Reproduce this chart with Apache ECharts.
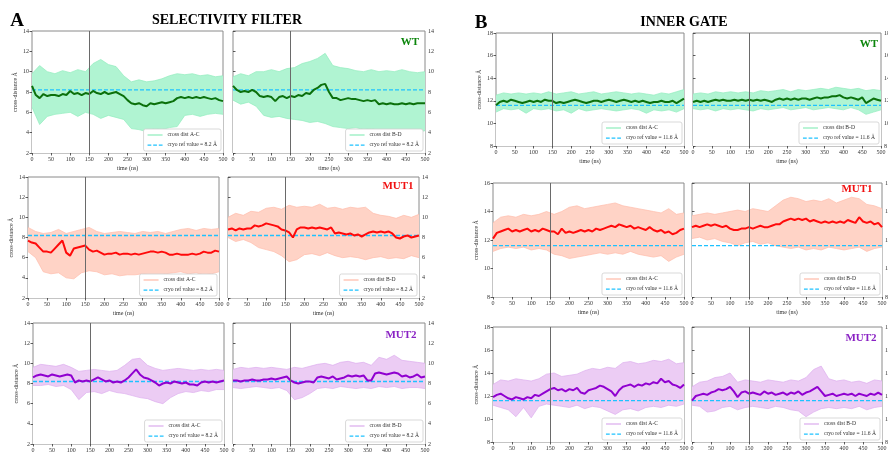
<!DOCTYPE html>
<html>
<head>
<meta charset="utf-8">
<script src="https://cdn.jsdelivr.net/npm/echarts@6/dist/echarts.min.js"></script>
<style>
  html, body { margin: 0; padding: 0; background: #fff; }
  #chart { width: 888px; height: 454px; }
</style>
</head>
<body>
<div id="chart"></div>
<script>
// time points (ns)
const tMean = [0,10,20,30,40,50,60,70,80,90,100,110,120,130,140,150,160,170,180,190,200,210,220,230,240,250,260,270,280,290,300,310,320,330,340,350,360,370,380,390,400,410,420,430,440,450,460,470,480,490,500];
const tBand = [0,20,40,60,80,100,120,140,160,180,200,220,240,260,280,300,320,340,360,380,400,420,440,460,480,500];
const xTicks = [0, 500, 50];
const equilibrationCut = 150;
const refSF = 8.2;
const refIG = 11.6;

// SELECTIVITY FILTER - WT
const sfWtAcMean = [8.6,7.7,7.4,7.8,7.6,7.7,7.7,7.6,7.8,7.7,8.1,7.8,7.9,7.7,7.9,7.8,8.1,7.9,7.8,8.0,7.8,7.9,8.0,7.8,7.6,7.2,6.9,6.8,6.9,6.7,6.6,6.9,6.8,6.9,7.0,6.9,7.0,7.1,7.4,7.5,7.4,7.5,7.4,7.5,7.4,7.5,7.4,7.3,7.4,7.2,7.1];
const sfWtAcHi = [9.8,10.6,10.0,9.8,10.1,9.9,10.2,10.0,10.8,11.2,10.7,10.5,9.6,9.0,9.2,9.0,9.1,9.3,9.6,9.8,9.7,9.8,9.6,9.7,9.5,9.6];
const sfWtAcLo = [6.5,4.8,5.6,5.8,5.9,6.0,5.6,6.0,5.8,5.4,5.7,5.5,5.3,4.4,4.3,4.1,4.4,4.3,4.5,4.6,5.7,5.8,5.6,5.8,5.9,5.8];
const sfWtBdMean = [8.6,8.2,8.0,8.1,8.0,8.2,8.0,7.6,7.5,7.6,7.5,7.1,7.5,7.6,7.4,7.6,7.5,7.7,7.6,7.9,7.8,8.2,8.4,8.7,8.8,8.0,7.4,7.4,7.2,7.3,7.4,7.3,7.3,7.2,7.1,7.2,7.1,7.2,6.8,6.9,6.8,6.9,6.8,6.8,6.9,6.8,6.9,6.8,6.9,6.9,6.9];
const sfWtBdHi = [9.5,9.8,9.6,10.0,10.0,10.2,10.0,10.3,10.4,10.8,11.0,11.3,11.8,10.6,10.4,10.3,10.1,10.0,10.2,10.0,10.1,10.0,10.2,10.0,9.9,10.0];
const sfWtBdLo = [7.2,6.8,7.0,6.6,5.7,5.5,5.6,5.4,5.3,5.2,5.0,5.1,4.9,4.6,4.5,4.4,4.5,4.3,4.4,4.2,4.1,4.2,4.0,4.1,4.0,4.2];

// SELECTIVITY FILTER - MUT1
const sfM1AcMean = [7.7,7.5,7.4,7.0,6.6,6.6,6.5,6.9,7.3,7.7,6.5,6.2,6.9,7.0,7.1,7.2,6.8,6.6,6.7,6.5,6.3,6.4,6.4,6.5,6.3,6.4,6.4,6.3,6.4,6.3,6.4,6.5,6.6,6.6,6.5,6.6,6.5,6.3,6.3,6.4,6.3,6.3,6.3,6.4,6.3,6.4,6.6,6.5,6.5,6.7,6.6];
const sfM1AcHi = [9.0,8.6,8.4,8.5,8.8,8.4,8.6,8.8,9.0,8.6,8.4,8.5,8.6,8.5,8.4,8.6,8.5,8.6,8.4,8.6,8.8,8.9,8.7,8.9,8.8,8.9];
const sfM1AcLo = [6.6,6.0,4.6,4.4,4.5,4.0,3.9,4.5,4.7,4.6,4.3,4.4,4.2,4.3,4.3,4.4,4.3,4.2,4.4,4.5,4.6,4.4,4.5,4.3,4.4,4.6];
const sfM1BdMean = [8.8,8.9,8.7,8.9,8.8,8.9,8.9,9.2,9.1,9.2,9.4,9.3,9.2,9.1,8.8,8.7,8.5,8.0,8.8,9.0,9.0,8.9,9.0,8.9,9.0,8.9,8.8,9.0,8.4,8.5,8.4,8.3,8.4,8.2,8.3,8.1,8.3,8.5,8.6,8.5,8.6,8.5,8.6,8.4,8.0,7.9,8.1,8.2,8.0,8.1,8.2];
const sfM1BdHi = [10.0,10.4,10.2,10.6,10.5,10.9,11.0,10.8,11.2,11.0,11.1,11.0,11.3,10.9,11.0,10.8,11.0,10.9,11.0,10.4,10.2,10.1,9.9,10.2,10.0,10.3];
const sfM1BdLo = [8.0,7.6,7.8,7.5,7.0,6.8,6.6,6.2,5.6,5.8,6.3,6.4,6.2,6.5,6.2,6.0,6.1,6.0,5.8,6.0,6.1,5.9,6.0,5.9,6.2,6.0];

// SELECTIVITY FILTER - MUT2
const sfM2AcMean = [8.6,8.8,8.9,8.8,8.7,8.9,8.8,8.7,8.8,8.9,8.8,8.1,8.3,8.2,8.3,8.2,8.4,8.6,8.4,8.2,8.3,8.1,8.2,8.1,8.3,8.6,9.0,9.4,8.9,8.6,8.5,8.3,8.1,7.8,8.0,8.1,8.0,8.2,8.1,8.0,8.1,7.9,7.9,7.8,8.1,8.2,8.1,8.2,8.1,8.2,8.3];
const sfM2AcHi = [9.6,9.9,9.8,9.7,9.9,9.6,9.2,9.3,9.4,9.3,9.2,9.3,9.8,10.4,10.5,9.8,9.5,9.3,9.4,9.5,9.4,9.3,9.4,9.3,9.4,9.3];
const sfM2AcLo = [7.8,7.8,7.9,7.7,7.8,7.4,6.4,7.1,7.2,7.0,7.3,7.1,7.0,6.8,6.6,6.5,6.2,6.0,6.6,7.0,7.2,7.1,7.3,7.2,7.4,7.4];
const sfM2BdMean = [8.3,8.3,8.2,8.3,8.3,8.4,8.3,8.3,8.4,8.4,8.5,8.4,8.5,8.6,8.7,8.3,8.1,8.0,8.1,8.2,8.2,8.1,8.6,8.7,8.6,8.5,8.7,8.4,8.5,8.6,8.8,8.7,8.8,8.7,8.8,8.3,8.3,9.0,9.1,9.0,8.9,9.0,9.1,9.0,8.7,8.8,8.6,8.7,8.9,8.6,8.7];
const sfM2BdHi = [9.4,9.6,9.5,9.6,9.5,9.6,9.5,9.4,9.6,9.5,9.7,9.9,10.0,9.8,10.1,10.2,10.0,10.1,9.8,10.6,10.4,10.8,10.3,10.2,10.1,10.0];
const sfM2BdLo = [7.6,7.5,7.6,7.7,7.6,7.5,7.6,7.3,6.4,6.6,7.0,7.5,7.6,7.5,7.7,7.6,7.5,7.6,7.5,7.7,7.6,7.7,7.5,7.6,7.6,7.5];

// INNER GATE - WT
const igWtAcMean = [11.6,11.9,12.0,11.9,12.1,12.0,11.9,11.8,11.9,12.0,11.9,12.0,11.9,12.1,12.0,12.0,11.8,11.9,11.8,11.9,12.0,12.1,12.0,11.9,11.8,11.9,12.0,12.0,11.9,12.0,12.1,12.0,11.9,12.0,12.1,12.0,11.9,12.0,11.9,12.0,11.9,11.8,11.9,11.9,12.0,11.9,11.9,12.0,11.8,12.0,12.2];
const igWtAcHi = [12.5,12.7,12.6,12.7,12.6,12.7,12.6,12.8,12.6,12.7,12.8,12.6,12.7,12.8,12.6,12.7,12.8,12.7,12.6,12.7,12.6,12.5,12.7,12.6,12.8,13.0];
const igWtAcLo = [11.0,11.3,11.2,11.3,10.9,11.3,11.2,11.3,11.1,11.2,10.9,11.3,11.1,11.2,11.3,11.2,11.1,11.2,11.3,11.2,10.9,11.2,11.1,11.2,11.0,11.3];
const igWtBdMean = [11.9,12.0,11.9,12.0,11.9,12.0,12.1,12.0,12.1,12.0,12.0,12.1,12.0,12.1,12.0,12.1,12.0,12.1,12.0,12.1,12.0,11.9,12.1,12.2,12.1,12.2,12.1,12.2,12.1,12.2,12.2,12.1,12.2,12.3,12.2,12.3,12.3,12.4,12.4,12.5,12.3,12.2,12.3,12.2,12.1,12.3,11.8,12.0,12.2,12.1,12.0];
const igWtBdHi = [12.6,12.7,12.6,12.8,12.7,12.8,12.7,12.8,12.7,12.9,12.8,12.9,13.0,12.8,13.0,12.9,13.0,13.1,13.0,13.2,13.1,13.0,13.1,12.9,13.0,12.9];
const igWtBdLo = [11.3,11.2,11.3,11.1,11.3,11.2,11.3,11.2,11.1,11.3,11.2,11.3,11.4,11.2,11.3,11.4,11.2,11.3,11.4,11.3,11.2,11.4,11.2,10.8,11.0,11.2];

// INNER GATE - MUT1
const igM1AcMean = [12.1,12.5,12.6,12.7,12.8,12.6,12.7,12.6,12.7,12.8,12.6,12.7,12.6,12.8,12.7,12.6,12.6,12.4,12.8,12.5,12.6,12.5,12.6,12.7,12.6,12.7,12.6,12.8,12.7,12.8,12.9,13.0,12.9,13.1,13.0,12.9,13.0,12.8,12.9,12.8,12.7,12.9,12.7,12.6,12.7,12.5,12.6,12.4,12.5,12.7,12.8];
const igM1AcHi = [13.2,13.6,13.7,13.6,13.8,13.7,13.8,14.0,13.8,14.0,14.3,14.4,14.2,14.3,14.4,14.5,14.6,14.4,14.3,14.2,14.1,14.0,13.9,14.2,13.8,13.9];
const igM1AcLo = [11.2,11.4,11.5,11.4,11.5,11.3,11.4,11.3,11.0,10.9,10.7,10.8,10.9,11.0,11.1,11.0,11.1,11.0,11.2,11.0,10.9,10.8,10.9,10.5,10.8,11.0];
const igM1BdMean = [12.9,13.0,12.9,13.0,13.1,13.0,13.1,13.0,12.9,13.0,12.8,12.7,12.7,12.8,12.8,12.9,12.8,12.9,13.0,12.9,12.9,13.0,13.1,13.1,13.3,13.4,13.5,13.4,13.5,13.4,13.5,13.3,13.4,13.3,13.2,13.3,13.2,13.3,13.2,13.3,13.2,13.4,13.3,13.2,13.6,13.3,13.2,13.3,13.1,13.2,12.9];
const igM1BdHi = [13.7,13.8,13.9,13.8,13.9,14.0,14.1,14.0,14.2,14.1,14.0,14.4,14.8,15.0,14.9,14.7,14.8,14.7,14.9,14.6,14.8,15.0,14.9,14.5,14.4,14.2];
const igM1BdLo = [12.1,12.2,12.0,12.1,11.9,11.8,11.6,11.8,11.9,11.7,11.8,11.6,11.5,11.4,11.5,11.3,11.4,11.3,11.5,11.4,11.3,11.4,11.5,11.2,11.4,11.5];

// INNER GATE - MUT2
const igM2AcMean = [11.9,12.1,12.2,12.0,11.8,11.7,11.9,11.8,11.7,11.9,11.8,12.1,12.0,12.2,12.4,12.6,12.7,12.5,12.6,12.4,12.6,12.5,12.7,12.3,12.2,12.5,12.6,12.7,12.9,12.8,12.6,12.4,12.0,12.5,12.8,12.9,13.0,12.8,13.0,12.9,13.1,13.0,13.2,13.1,13.5,13.2,13.3,13.0,12.9,12.7,13.0];
const igM2AcHi = [13.0,13.4,13.3,13.5,13.4,13.3,13.5,13.9,14.0,13.7,13.8,13.9,14.2,14.4,14.3,14.5,14.4,14.9,15.0,14.8,14.9,15.1,15.0,15.2,14.8,14.9];
const igM2AcLo = [11.2,11.0,10.8,10.2,11.0,10.1,11.1,11.3,11.2,11.1,11.0,11.2,10.9,11.1,11.0,10.7,10.4,10.8,10.9,10.7,11.0,11.1,11.0,11.2,11.1,11.3];
const igM2BdMean = [11.6,12.0,12.1,12.2,12.1,12.3,12.4,12.6,12.5,12.6,12.8,12.4,11.9,12.3,12.4,12.2,12.3,12.2,12.1,12.4,12.2,12.3,12.1,12.2,12.3,12.1,12.3,12.2,12.4,12.1,12.3,12.4,12.6,12.8,12.4,12.0,12.1,12.2,12.0,12.1,12.2,12.1,12.2,12.0,12.2,12.1,12.0,12.2,12.1,12.3,12.1];
const igM2BdHi = [12.8,13.2,13.3,13.6,13.7,14.0,13.2,13.4,13.3,13.2,13.4,13.3,13.2,13.4,13.3,13.6,14.3,14.6,13.5,13.3,13.4,13.2,13.3,13.1,13.4,13.3];
const igM2BdLo = [11.2,11.1,10.6,10.7,11.0,11.1,10.8,11.0,11.1,11.0,10.9,11.1,11.0,10.8,10.7,10.2,10.6,10.9,11.0,10.9,11.0,10.9,11.1,10.8,11.0,11.1];

const variants = {
  WT:   { line: "#0b700b", band: "#b0f4d2", edge: "#90edbd", label: "#0b850b" },
  MUT1: { line: "#ff0a0a", band: "#ffd3c6", edge: "#ffbcaa", label: "#f01010" },
  MUT2: { line: "#9000d0", band: "#ecccf4", edge: "#dcaeee", label: "#8a22c4" }
};

const serif = "'Liberation Serif', 'DejaVu Serif', serif";
const W = 888, H = 454;
const solidIcon = "path://M0,0h12v1h-12z";
const dashIcon = "path://M0,0h3v1h-3zM4.5,0h3v1h-3zM9,0h3v1h-3z";

// panel boxes: [x1, y1, x2, y2]
const panels = [
  { box: [32, 31, 223, 153],  v: "WT",   pair: "A-C", ref: refSF, y: [2, 14], mean: sfWtAcMean, hi: sfWtAcHi, lo: sfWtAcLo },
  { box: [233, 31, 425, 153], v: "WT",   pair: "B-D", ref: refSF, y: [2, 14], mean: sfWtBdMean, hi: sfWtBdHi, lo: sfWtBdLo },
  { box: [28, 177, 219, 298], v: "MUT1", pair: "A-C", ref: refSF, y: [2, 14], mean: sfM1AcMean, hi: sfM1AcHi, lo: sfM1AcLo },
  { box: [228, 177, 419, 298],v: "MUT1", pair: "B-D", ref: refSF, y: [2, 14], mean: sfM1BdMean, hi: sfM1BdHi, lo: sfM1BdLo },
  { box: [33, 323, 224, 444], v: "MUT2", pair: "A-C", ref: refSF, y: [2, 14], mean: sfM2AcMean, hi: sfM2AcHi, lo: sfM2AcLo },
  { box: [233, 323, 425, 444],v: "MUT2", pair: "B-D", ref: refSF, y: [2, 14], mean: sfM2BdMean, hi: sfM2BdHi, lo: sfM2BdLo },
  { box: [496, 33, 684, 146], v: "WT",   pair: "A-C", ref: refIG, y: [8, 18], mean: igWtAcMean, hi: igWtAcHi, lo: igWtAcLo },
  { box: [693, 33, 881, 146], v: "WT",   pair: "B-D", ref: refIG, y: [8, 18], mean: igWtBdMean, hi: igWtBdHi, lo: igWtBdLo },
  { box: [493, 183, 684, 297],v: "MUT1", pair: "A-C", ref: refIG, y: [8, 16], mean: igM1AcMean, hi: igM1AcHi, lo: igM1AcLo },
  { box: [692, 183, 882, 297],v: "MUT1", pair: "B-D", ref: refIG, y: [8, 16], mean: igM1BdMean, hi: igM1BdHi, lo: igM1BdLo },
  { box: [493, 327, 684, 442],v: "MUT2", pair: "A-C", ref: refIG, y: [8, 18], mean: igM2AcMean, hi: igM2AcHi, lo: igM2AcLo },
  { box: [692, 327, 882, 442],v: "MUT2", pair: "B-D", ref: refIG, y: [8, 18], mean: igM2BdMean, hi: igM2BdHi, lo: igM2BdLo }
];

const labelPos = [
  { v: "WT", x: 410, y: 42 }, { v: "MUT1", x: 398, y: 186 }, { v: "MUT2", x: 401, y: 335 },
  { v: "WT", x: 869, y: 44 }, { v: "MUT1", x: 857, y: 189 }, { v: "MUT2", x: 861, y: 338 }
];

const zip = (xs, ys) => xs.map((x, i) => [x, ys[i]]);

let grid = [], xAxis = [], yAxis = [], series = [], legend = [];

panels.forEach((p, i) => {
  const [x1, y1, x2, y2] = p.box;
  const c = variants[p.v];
  const isLeft = p.pair === "A-C";
  const bandName = "cross dist " + p.pair;
  const refName = "cryo ref value = " + p.ref + " Å";

  // outerBoundsMode none: keep the boxes exactly where they are, labels may run off the page
  grid.push({
    left: x1, top: y1, width: x2 - x1, height: y2 - y1,
    outerBoundsMode: "none", containLabel: false,
    show: true, borderColor: "#8a8a8a", borderWidth: 1
  });
  xAxis.push({
    gridIndex: i, type: "value", min: xTicks[0], max: xTicks[1], interval: xTicks[2],
    axisLine: { show: false },
    axisTick: { show: true, length: 2.5, lineStyle: { color: "#333", width: 0.8 } },
    axisLabel: { fontSize: 6, margin: 3, color: "#333", fontFamily: serif },
    splitLine: { show: false },
    name: "time (ns)", nameLocation: "middle", nameGap: 12,
    nameTextStyle: { fontSize: 6, color: "#333", fontFamily: serif }
  });
  yAxis.push({
    gridIndex: i, type: "value", min: p.y[0], max: p.y[1], interval: 2,
    position: isLeft ? "left" : "right",
    axisLine: { show: false },
    axisTick: { show: true, length: 2.5, lineStyle: { color: "#333", width: 0.8 } },
    axisLabel: { fontSize: 6, margin: 3, color: "#333", fontFamily: serif },
    splitLine: { show: false },
    name: isLeft ? "cross-distance Å" : "", nameLocation: "middle", nameGap: 14,
    nameTextStyle: { fontSize: 6, color: "#333", fontFamily: serif }
  });

  // band: upper edge filled down to the axis, then lower edge covered in white
  series.push({
    name: bandName, type: "line", xAxisIndex: i, yAxisIndex: i,
    data: zip(tBand, p.hi), symbol: "none", silent: true,
    lineStyle: { color: c.edge, width: 0.7 },
    areaStyle: { color: c.band, opacity: 1, origin: "start" }, z: 1
  });
  series.push({
    name: "_lo" + i, type: "line", xAxisIndex: i, yAxisIndex: i,
    data: zip(tBand, p.lo), symbol: "none", silent: true,
    lineStyle: { color: c.edge, width: 0.7 },
    areaStyle: { color: "#ffffff", opacity: 1, origin: "start" }, z: 2
  });
  series.push({
    name: refName, type: "line", xAxisIndex: i, yAxisIndex: i,
    data: [[xTicks[0], p.ref], [xTicks[1], p.ref]], symbol: "none", silent: true,
    lineStyle: { color: "#1ec2ff", width: 1.3, type: [4, 2] }, z: 3
  });
  series.push({
    name: "_mean" + i, type: "line", xAxisIndex: i, yAxisIndex: i,
    data: zip(tMean, p.mean), symbol: "none", silent: true,
    lineStyle: { color: c.line, width: 2 }, z: 4,
    markLine: {
      symbol: "none", silent: true, label: { show: false },
      lineStyle: { color: "#6a6a6a", width: 1, type: "solid" },
      data: [{ xAxis: equilibrationCut }]
    }
  });

  legend.push({
    orient: "vertical",
    right: W - (x2 - 2), bottom: H - (y2 - 2),
    backgroundColor: "#fff", borderColor: "#cfcfcf", borderWidth: 0.8, borderRadius: 2,
    padding: [3, 4], itemGap: 4, itemWidth: 15, itemHeight: 1.4,
    textStyle: { fontSize: 5.6, color: "#333", fontFamily: serif },
    selectedMode: false, z: 20,
    data: [
      { name: bandName, icon: solidIcon, itemStyle: { color: c.edge, borderWidth: 0 } },
      { name: refName, icon: dashIcon, itemStyle: { color: "#1ec2ff", borderWidth: 0 } }
    ]
  });
});

const graphic = [
  { type: "text", x: 17, y: 21, style: { text: "A", font: "bold 19px " + serif, fill: "#000", textAlign: "center", textVerticalAlign: "middle", align: "center", verticalAlign: "middle" } },
  { type: "text", x: 227, y: 20, style: { text: "SELECTIVITY FILTER", font: "bold 14px " + serif, fill: "#000", textAlign: "center", textVerticalAlign: "middle", align: "center", verticalAlign: "middle" } },
  { type: "text", x: 481, y: 23, style: { text: "B", font: "bold 19px " + serif, fill: "#000", textAlign: "center", textVerticalAlign: "middle", align: "center", verticalAlign: "middle" } },
  { type: "text", x: 684, y: 22, style: { text: "INNER GATE", font: "bold 14px " + serif, fill: "#000", textAlign: "center", textVerticalAlign: "middle", align: "center", verticalAlign: "middle" } }
];
labelPos.forEach(l => {
  graphic.push({
    type: "text", x: l.x, y: l.y, z: 100,
    style: { text: l.v, font: "bold 11px " + serif, fill: variants[l.v].label, textAlign: "center", textVerticalAlign: "middle", align: "center", verticalAlign: "middle" }
  });
});

const myChart = echarts.init(document.getElementById("chart"));
myChart.setOption({
  animation: false,
  backgroundColor: "#fff",
  grid: grid,
  xAxis: xAxis,
  yAxis: yAxis,
  legend: legend,
  series: series,
  graphic: graphic
});
</script>
</body>
</html>
